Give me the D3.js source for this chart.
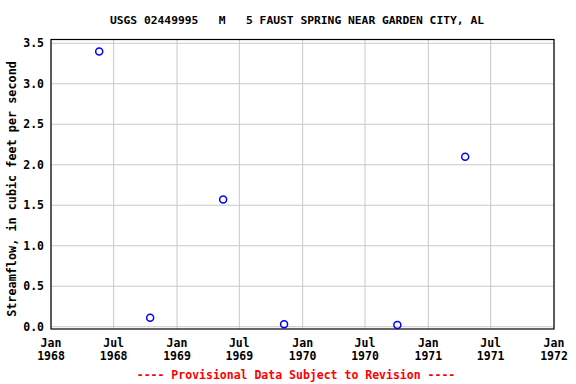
<!DOCTYPE html>
<html lang="en">
<head>
<meta charset="UTF-8">
<title>USGS 02449995 streamflow</title>
<script src="https://d3js.org/d3.v7.min.js"></script>
<style>
  body { margin: 0; background: white; }
  text { font-family: "DejaVu Sans Mono", monospace; font-weight: bold; }
</style>
</head>
<body>
<div id="chart"></div>
<script>
// measurement dates and values (cfs)
const dates = ["1968-05-20", "1968-10-15", "1969-05-15", "1969-11-08", "1970-10-03", "1971-04-18"];
const flows = [3.40, 0.11, 1.57, 0.03, 0.02, 2.10];
const yTicks = [0, 0.5, 1.0, 1.5, 2.0, 2.5, 3.0, 3.5];
const xTickDates = ["1968-01-01", "1968-07-01", "1969-01-01", "1969-07-01", "1970-01-01",
                    "1970-07-01", "1971-01-01", "1971-07-01", "1972-01-01"];

const W = 576, H = 384;
const plotL = 51, plotR = 554, plotT = 39.5, plotB = 329;
const parse = d3.utcParse("%Y-%m-%d");

const svg = d3.select("#chart").append("svg")
  .attr("width", W).attr("height", H);

const x = d3.scaleUtc()
  .domain([parse("1968-01-01"), parse("1972-01-01")])
  .range([plotL, plotR]);
const y = d3.scaleLinear()
  .domain([-0.028, 3.547])
  .range([plotB, plotT]);

// grid
svg.append("g").selectAll("line").data(yTicks).enter().append("line")
  .attr("x1", plotL).attr("x2", plotR)
  .attr("y1", d => y(d)).attr("y2", d => y(d))
  .attr("stroke", "#c8c8c8").attr("stroke-width", 1);
svg.append("g").selectAll("line").data(xTickDates).enter().append("line")
  .attr("x1", d => x(parse(d))).attr("x2", d => x(parse(d)))
  .attr("y1", plotT).attr("y2", plotB)
  .attr("stroke", "#c8c8c8").attr("stroke-width", 1);

// frame
svg.append("rect")
  .attr("x", plotL).attr("y", plotT)
  .attr("width", plotR - plotL).attr("height", plotB - plotT)
  .attr("fill", "none").attr("stroke", "black").attr("stroke-width", 1.2);

// y labels
svg.append("g").selectAll("text").data(yTicks).enter().append("text")
  .attr("x", 44).attr("y", d => y(d) + 4)
  .attr("text-anchor", "end").attr("font-size", 11.5)
  .text(d => d.toFixed(1));

// x labels
const mon = d3.utcFormat("%b"), yr = d3.utcFormat("%Y");
const xl = svg.append("g").selectAll("text").data(xTickDates).enter().append("text")
  .attr("text-anchor", "middle").attr("font-size", 11.5);
xl.append("tspan").attr("x", d => x(parse(d))).attr("y", 347).text(d => mon(parse(d)));
xl.append("tspan").attr("x", d => x(parse(d))).attr("y", 359.5).text(d => yr(parse(d)));

// points
svg.append("g").selectAll("circle").data(dates).enter().append("circle")
  .attr("cx", d => x(parse(d)))
  .attr("cy", (d, i) => y(flows[i]))
  .attr("r", 3.5)
  .attr("fill", "none").attr("stroke", "blue").attr("stroke-width", 1.5);

// title
svg.append("text")
  .attr("x", 297).attr("y", 24)
  .attr("text-anchor", "middle").attr("font-size", 11.3)
  .attr("xml:space", "preserve")
  .text("USGS 02449995   M   5 FAUST SPRING NEAR GARDEN CITY, AL");

// axis title
svg.append("text")
  .attr("transform", "translate(16,189) rotate(-90)")
  .attr("text-anchor", "middle").attr("font-size", 11.8)
  .text("Streamflow, in cubic feet per second");

// footer
svg.append("text")
  .attr("x", 296).attr("y", 378.5)
  .attr("text-anchor", "middle").attr("font-size", 11.5)
  .attr("fill", "red")
  .text("---- Provisional Data Subject to Revision ----");
</script>
</body>
</html>
